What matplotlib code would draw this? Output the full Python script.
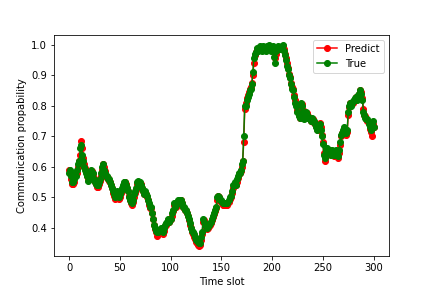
import numpy as np
import matplotlib
matplotlib.use("Agg")
import matplotlib.pyplot as plt

# Values, one per time slot (0..300)
true_vals = [
    0.58, 0.59, 0.57, 0.55, 0.55, 0.56, 0.58, 0.57, 0.59, 0.61,
    0.62, 0.66, 0.67, 0.64, 0.62, 0.60, 0.59, 0.58, 0.57, 0.555,
    0.57, 0.59, 0.58, 0.58, 0.56, 0.55, 0.545, 0.54, 0.54, 0.55,
    0.56, 0.58, 0.60, 0.61, 0.59, 0.58, 0.57, 0.57, 0.56, 0.56,
    0.55, 0.54, 0.53, 0.52, 0.51, 0.50, 0.51, 0.52, 0.51, 0.50,
    0.51, 0.52, 0.53, 0.54, 0.55, 0.55, 0.54, 0.53, 0.52, 0.50,
    0.49, 0.485, 0.48, 0.49, 0.51, 0.52, 0.53, 0.55, 0.555, 0.54,
    0.55, 0.54, 0.53, 0.52, 0.51, 0.52, 0.51, 0.505, 0.49, 0.48,
    0.47, 0.47, 0.45, 0.43, 0.41, 0.40, 0.39, 0.385, 0.385, 0.39,
    0.40, 0.39, 0.385, 0.40, 0.41, 0.415, 0.42, 0.43, 0.42, 0.43,
    0.43, 0.45, 0.46, 0.48, 0.47, 0.475, 0.48, 0.49, 0.48, 0.49,
    0.49, 0.48, 0.47, 0.47, 0.46, 0.46, 0.45, 0.44, 0.43, 0.415,
    0.40, 0.39, 0.385, 0.38, 0.37, 0.36, 0.36, 0.355, 0.35, 0.35,
    0.37, 0.385, 0.43, 0.42, 0.41, 0.405, 0.40, 0.405, 0.41, 0.415,
    0.42, 0.43, 0.44, 0.45, 0.46, 0.47, 0.50, 0.505, 0.50, 0.49,
    0.49, 0.485, 0.48, 0.48, 0.48, 0.48, 0.48, 0.49, 0.50, 0.505,
    0.52, 0.54, 0.54, 0.55, 0.54, 0.56, 0.57, 0.58, 0.58, 0.59,
    0.61, 0.62, 0.70, 0.80, 0.80, 0.82, 0.83, 0.84, 0.85, 0.855,
    0.87, 0.91, 0.955, 0.97, 0.975, 0.99, 0.98, 0.99, 0.995, 0.99,
    0.98, 0.995, 0.99, 0.99, 0.98, 0.995, 0.99, 1.0, 0.99, 0.98,
    0.99, 0.995, 0.96, 0.94, 0.98, 0.99, 0.995, 0.99, 0.985, 0.99,
    0.995, 1.0, 0.98, 0.965, 0.95, 0.93, 0.92, 0.90, 0.89, 0.87,
    0.855, 0.85, 0.83, 0.81, 0.80, 0.78, 0.765, 0.76, 0.81, 0.80,
    0.78, 0.755, 0.77, 0.78, 0.77, 0.76, 0.76, 0.755, 0.75, 0.76,
    0.75, 0.75, 0.74, 0.73, 0.72, 0.725, 0.73, 0.74, 0.72, 0.70,
    0.675, 0.64, 0.63, 0.65, 0.66, 0.65, 0.655, 0.65, 0.64, 0.655,
    0.65, 0.64, 0.645, 0.655, 0.64, 0.635, 0.655, 0.68, 0.705, 0.71,
    0.72, 0.73, 0.72, 0.71, 0.72, 0.78, 0.80, 0.81, 0.80, 0.81,
    0.815, 0.82, 0.825, 0.83, 0.82, 0.835, 0.84, 0.85, 0.84, 0.82,
    0.78, 0.77, 0.76, 0.755, 0.755, 0.74, 0.73, 0.72, 0.74, 0.75,
    0.73,
]

predict_vals = [
    0.59, 0.58, 0.56, 0.545, 0.545, 0.55, 0.57, 0.575, 0.58, 0.60,
    0.62, 0.64, 0.685, 0.66, 0.63, 0.61, 0.595, 0.585, 0.57, 0.56,
    0.56, 0.58, 0.585, 0.575, 0.565, 0.55, 0.545, 0.535, 0.535, 0.545,
    0.555, 0.57, 0.59, 0.61, 0.60, 0.585, 0.57, 0.565, 0.565, 0.555,
    0.55, 0.54, 0.53, 0.515, 0.505, 0.495, 0.505, 0.515, 0.51, 0.495,
    0.50, 0.515, 0.525, 0.535, 0.545, 0.55, 0.545, 0.53, 0.52, 0.505,
    0.49, 0.48, 0.475, 0.485, 0.50, 0.515, 0.525, 0.545, 0.55, 0.54,
    0.545, 0.545, 0.53, 0.52, 0.51, 0.515, 0.51, 0.50, 0.49, 0.475,
    0.465, 0.465, 0.45, 0.43, 0.41, 0.395, 0.385, 0.375, 0.38, 0.385,
    0.395, 0.39, 0.38, 0.39, 0.405, 0.41, 0.415, 0.425, 0.42, 0.425,
    0.43, 0.44, 0.455, 0.475, 0.47, 0.47, 0.475, 0.485, 0.48, 0.485,
    0.49, 0.48, 0.47, 0.465, 0.46, 0.455, 0.45, 0.44, 0.425, 0.41,
    0.40, 0.385, 0.38, 0.37, 0.365, 0.355, 0.35, 0.345, 0.34, 0.345,
    0.36, 0.38, 0.42, 0.425, 0.41, 0.40, 0.395, 0.40, 0.405, 0.41,
    0.415, 0.425, 0.435, 0.445, 0.455, 0.465, 0.49, 0.505, 0.50, 0.49,
    0.485, 0.48, 0.475, 0.475, 0.475, 0.475, 0.475, 0.485, 0.495, 0.50,
    0.515, 0.53, 0.54, 0.545, 0.54, 0.55, 0.565, 0.575, 0.58, 0.585,
    0.60, 0.62, 0.68, 0.79, 0.81, 0.825, 0.835, 0.845, 0.855, 0.86,
    0.875, 0.90, 0.94, 0.965, 0.975, 0.985, 0.985, 0.985, 0.99, 0.99,
    0.985, 0.99, 0.99, 0.985, 0.985, 0.99, 0.99, 0.995, 0.99, 0.985,
    0.985, 0.99, 0.975, 0.955, 0.97, 0.985, 0.99, 0.99, 0.985, 0.99,
    0.99, 0.995, 0.985, 0.97, 0.955, 0.94, 0.925, 0.905, 0.895, 0.875,
    0.86, 0.855, 0.835, 0.82, 0.805, 0.785, 0.77, 0.76, 0.80, 0.805,
    0.785, 0.76, 0.765, 0.775, 0.775, 0.765, 0.76, 0.755, 0.75, 0.755,
    0.755, 0.745, 0.745, 0.735, 0.725, 0.72, 0.73, 0.745, 0.73, 0.705,
    0.68, 0.645, 0.62, 0.635, 0.655, 0.65, 0.65, 0.655, 0.64, 0.65,
    0.65, 0.635, 0.64, 0.65, 0.645, 0.63, 0.645, 0.67, 0.70, 0.71,
    0.715, 0.725, 0.725, 0.705, 0.715, 0.77, 0.795, 0.81, 0.805, 0.81,
    0.81, 0.815, 0.82, 0.83, 0.825, 0.83, 0.84, 0.85, 0.845, 0.825,
    0.79, 0.77, 0.765, 0.755, 0.75, 0.745, 0.725, 0.715, 0.70, 0.74,
    0.73,
]

time_slot = np.arange(len(true_vals))

plt.figure(figsize=[6, 4], dpi=72)
plt.plot(time_slot, predict_vals, color='r', marker='o', label="Predict")
plt.plot(time_slot, true_vals, color='g', marker='o', label="True")
plt.xlabel("Time slot")
plt.ylabel("Communication propability")
plt.legend(loc='upper right')
plt.savefig("out.png", dpi=72)
